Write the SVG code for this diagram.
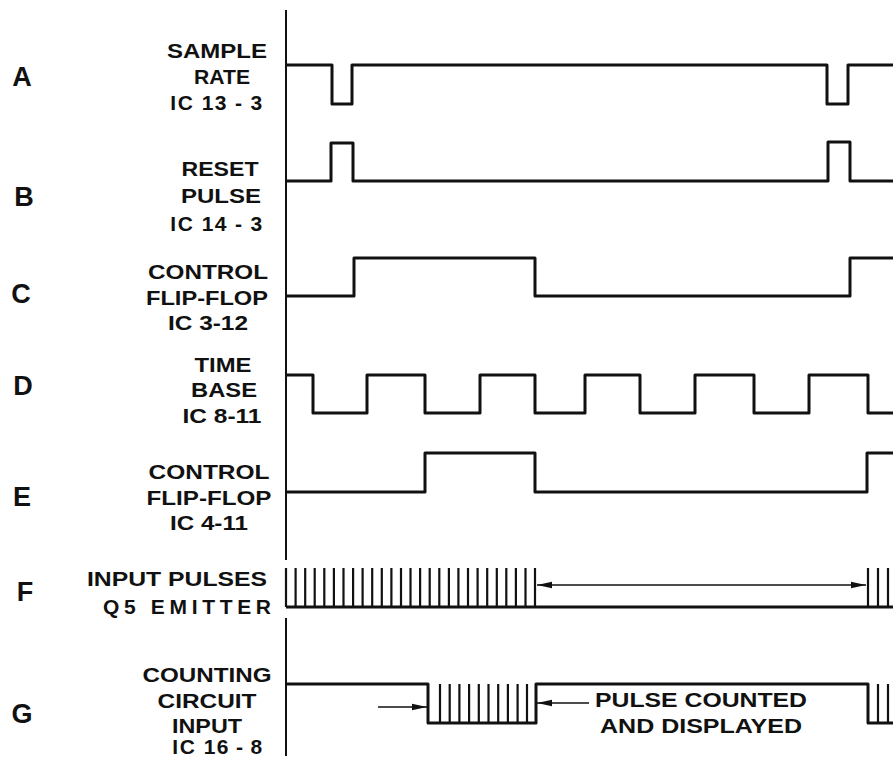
<svg xmlns="http://www.w3.org/2000/svg" width="893" height="758" viewBox="0 0 893 758">
  <defs>
    <marker id="ah" markerUnits="userSpaceOnUse" markerWidth="18" markerHeight="9" refX="15" refY="4" orient="auto-start-reverse">
      <path d="M0,0.8 L15,4 L0,7.2 Z" fill="#111"/>
    </marker>
    <style>
      .lbl{font-family:"Liberation Sans",Arial,sans-serif;font-weight:bold;font-size:21px;fill:#111;text-anchor:middle}
      .ic{letter-spacing:1.5px}
      .let{font-family:"Liberation Sans",Arial,sans-serif;font-weight:bold;font-size:27px;fill:#111;text-anchor:middle}
      .wave{fill:none;stroke:#111;stroke-width:3;stroke-linejoin:round;stroke-linecap:butt}
      .pulse{fill:none;stroke:#111;stroke-width:2.2}
      .axis{fill:none;stroke:#111;stroke-width:2}
      .arr{fill:none;stroke:#111;stroke-width:1.6}
    </style>
  </defs>
  <rect width="893" height="758" fill="#fff"/>

  <g id="axis">
    <path class="axis" d="M286,10 V560 M286,618 V756"/>
  </g>

  <g id="A">
    <text class="let" x="22" y="86">A</text>
    <text class="lbl" x="217" y="58" textLength="100" lengthAdjust="spacingAndGlyphs">SAMPLE</text>
    <text class="lbl" x="222" y="84" textLength="56" lengthAdjust="spacingAndGlyphs">RATE</text>
    <text class="lbl ic" x="217" y="110">IC 13<tspan dx="7">-</tspan><tspan dx="7">3</tspan></text>
    <path class="wave" d="M286,65 H332 V104 H352 V65 H827 V104 H848 V65 H893"/>
  </g>

  <g id="B">
    <text class="let" x="24" y="206">B</text>
    <text class="lbl" x="220" y="176" textLength="77" lengthAdjust="spacingAndGlyphs">RESET</text>
    <text class="lbl" x="221" y="203" textLength="80" lengthAdjust="spacingAndGlyphs">PULSE</text>
    <text class="lbl ic" x="217" y="231">IC 14<tspan dx="7">-</tspan><tspan dx="7">3</tspan></text>
    <path class="wave" d="M286,181 H331 V143 H353 V181 H828 V142 H850 V181 H893"/>
  </g>

  <g id="C">
    <text class="let" x="21" y="303">C</text>
    <text class="lbl" x="208" y="279" textLength="120" lengthAdjust="spacingAndGlyphs">CONTROL</text>
    <text class="lbl" x="207" y="305" textLength="122" lengthAdjust="spacingAndGlyphs">FLIP-FLOP</text>
    <text class="lbl" x="208" y="330" textLength="80" lengthAdjust="spacingAndGlyphs">IC 3-12</text>
    <path class="wave" d="M286,296 H354 V258 H535 V296 H850 V258 H893"/>
  </g>

  <g id="D">
    <text class="let" x="23" y="395">D</text>
    <text class="lbl" x="223" y="372" textLength="57" lengthAdjust="spacingAndGlyphs">TIME</text>
    <text class="lbl" x="224" y="397" textLength="66" lengthAdjust="spacingAndGlyphs">BASE</text>
    <text class="lbl" x="222" y="423" textLength="79" lengthAdjust="spacingAndGlyphs">IC 8-11</text>
    <path class="wave" d="M286,375 H313 V413 H367 V375 H425 V413 H480 V375 H535 V413 H585 V375 H640 V413 H695 V375 H754 V413 H809 V375 H868 V413 H893"/>
  </g>

  <g id="E">
    <text class="let" x="22" y="506">E</text>
    <text class="lbl" x="209" y="479" textLength="121" lengthAdjust="spacingAndGlyphs">CONTROL</text>
    <text class="lbl" x="209" y="505" textLength="125" lengthAdjust="spacingAndGlyphs">FLIP-FLOP</text>
    <text class="lbl" x="209" y="530" textLength="78" lengthAdjust="spacingAndGlyphs">IC 4-11</text>
    <path class="wave" d="M286,492 H425 V453 H535 V492 H867 V453 H893"/>
  </g>

  <g id="F">
    <text class="let" x="25" y="601">F</text>
    <text class="lbl" x="177" y="586" textLength="180" lengthAdjust="spacingAndGlyphs">INPUT PULSES</text>
    <text class="lbl" x="187" y="614" textLength="168" lengthAdjust="spacing">Q5 EMITTER</text>
    <path class="wave" d="M286,607 H893"/>
    <path class="pulse" d="M286,607 V568 M295.6,607 V568 M305.2,607 V568 M314.7,607 V568 M324.3,607 V568 M333.9,607 V568 M343.5,607 V568 M353.1,607 V568 M362.6,607 V568 M372.2,607 V568 M381.8,607 V568 M391.4,607 V568 M401,607 V568 M410.5,607 V568 M420.1,607 V568 M429.7,607 V568 M439.3,607 V568 M448.9,607 V568 M458.4,607 V568 M468,607 V568 M477.6,607 V568 M487.2,607 V568 M496.8,607 V568 M506.3,607 V568 M515.9,607 V568 M525.5,607 V568 M535,607 V568 M868,607 V568 M878,607 V568 M888,607 V568"/>
  </g>

  <g id="G">
    <text class="let" x="22" y="723">G</text>
    <text class="lbl" x="207" y="682" textLength="129" lengthAdjust="spacingAndGlyphs">COUNTING</text>
    <text class="lbl" x="207" y="708" textLength="99" lengthAdjust="spacingAndGlyphs">CIRCUIT</text>
    <text class="lbl" x="207" y="733" textLength="70" lengthAdjust="spacingAndGlyphs">INPUT</text>
    <text class="lbl ic" x="218" y="754">IC 16<tspan dx="6">-</tspan><tspan dx="6">8</tspan></text>
    <path class="wave" d="M286,684 H428 V723 H536 V684 H868 V723 H893"/>
    <path class="pulse" d="M440,723 V684 M449.7,723 V684 M459.4,723 V684 M469.1,723 V684 M478.8,723 V684 M488.5,723 V684 M498.2,723 V684 M507.9,723 V684 M517.6,723 V684 M527,723 V684 M878,723 V684 M888,723 V684"/>
  </g>

  <g id="labels">
    <text class="lbl" x="701" y="707" textLength="212" lengthAdjust="spacingAndGlyphs">PULSE COUNTED</text>
    <text class="lbl" x="701" y="733" textLength="202" lengthAdjust="spacingAndGlyphs">AND DISPLAYED</text>
  </g>

  <g id="connectors">
    <path class="arr" d="M537,585 H866" marker-start="url(#ah)" marker-end="url(#ah)"/>
    <path class="arr" d="M378,707 H427" marker-end="url(#ah)"/>
    <path class="arr" d="M589,703 H537" marker-end="url(#ah)"/>
  </g>
</svg>
